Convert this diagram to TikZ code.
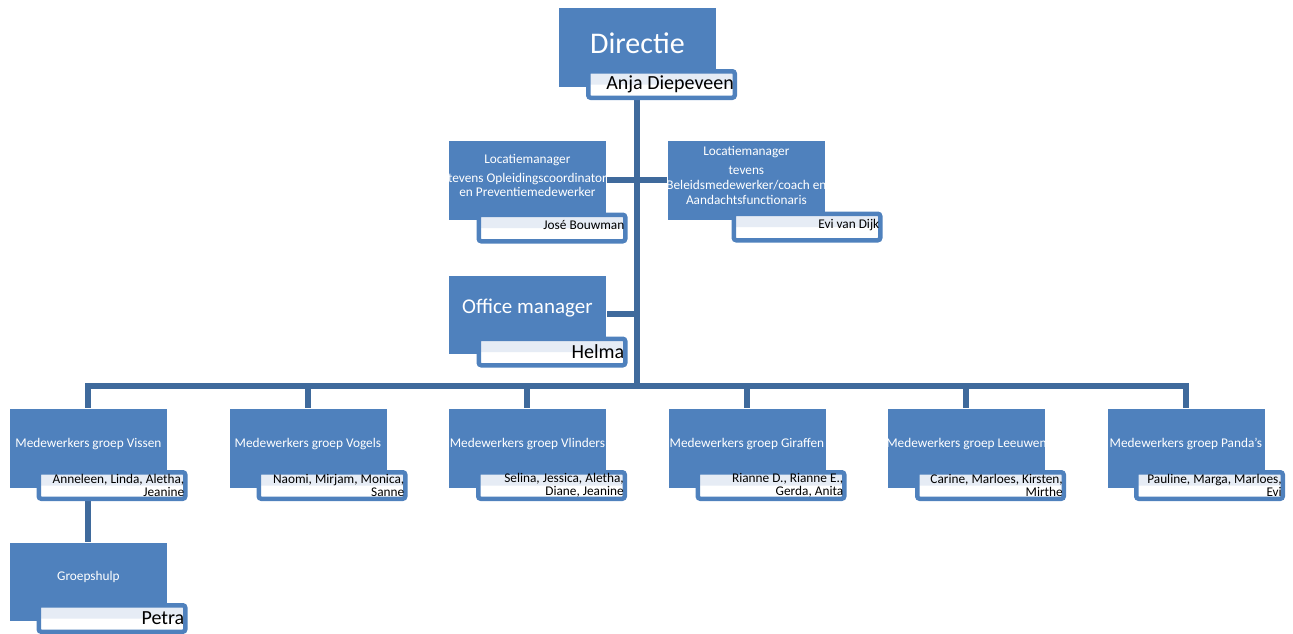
\documentclass[tikz,border=0pt]{standalone}
\usepackage{fontspec}
\setmainfont{Carlito}
\usetikzlibrary{backgrounds}
\definecolor{boxblue}{HTML}{4F81BD}
\definecolor{lineblue}{HTML}{3F6A9C}
\definecolor{nametop}{HTML}{E6ECF5}
\newcommand\ovl[1]{\makebox[150pt][c]{#1}}
\tikzset{
  mainbox/.style={rectangle, anchor=north west, fill=boxblue, draw=white, line width=0.8pt,
    minimum width=158pt, minimum height=80pt, inner sep=0pt, text width=158pt,
    text=white, align=flush center},
  namebox/.style={rectangle, draw=boxblue, line width=4.5pt, rounded corners=2.5pt,
    fill=white, path picture={\fill[nametop] (path picture bounding box.north west)
      rectangle (path picture bounding box.east);},
    text=black, inner xsep=1pt, inner ysep=0pt,
    minimum height=26.5pt, text width=144.5pt, align=flush right},
  conn/.style={draw=lineblue, line width=6pt, line join=miter},
  smallf/.style={font=\fontsize{13.3}{13}\selectfont},
  bigf/.style={font=\fontsize{20}{22}\selectfont},
  grp/.style={mainbox, smallf, text depth=12pt},
}
\begin{document}
\begin{tikzpicture}[x=1pt,y=-1pt]
\useasboundingbox (0,0) rectangle (1293,633);
% top
\node[mainbox, font=\fontsize{30}{32}\selectfont, text depth=8pt] (dir) at (558,7) {Directie};
\node[namebox, bigf, text depth=3pt] (dirn) at (661.5,84.5) {Anja Diepeveen};
% locatiemanagers
\node[mainbox, font=\fontsize{13.3}{14}\selectfont, text depth=43pt] (locl) at (448,140)
  {Locatiemanager\\[5pt]\ovl{tevens Opleidingscoordinator}\\en Preventiemedewerker};
\node[namebox, smallf, text depth=7pt] (locln) at (552,228) {José Bouwman};
\node[mainbox, font=\fontsize{13.3}{15}\selectfont, text depth=59pt] (locr) at (667,140)
  {Locatiemanager\\[4pt]tevens\\\ovl{Beleidsmedewerker/coach en}\\Aandachtsfunctionaris};
\node[namebox, smallf, text depth=6.5pt] (locrn) at (807,227) {Evi van Dijk};
% office
\node[mainbox, font=\fontsize{21}{23}\selectfont, text depth=16pt, minimum height=79pt] (off) at (448,274.5) {Office manager};
\node[namebox, bigf] (offn) at (552,352) {Helma};
% groups
\node[grp] (g1) at (9,408) {\ovl{Medewerkers groep Vissen}};
\node[namebox, smallf] (g1n) at (112,485.5) {Anneleen, Linda, Aletha,\\Jeanine};
\node[grp] (g2) at (228.5,408) {\ovl{Medewerkers groep Vogels}};
\node[namebox, smallf] (g2n) at (332,485.5) {Naomi, Mirjam, Monica,\\Sanne};
\node[grp] (g3) at (448,408) {\ovl{Medewerkers groep Vlinders}};
\node[namebox, smallf] (g3n) at (551.5,485.5) {Selina, Jessica, Aletha,\\Diane, Jeanine};
\node[grp] (g4) at (667.5,408) {\ovl{Medewerkers groep Giraffen}};
\node[namebox, smallf] (g4n) at (771,485.5) {Rianne D., Rianne E.,\\Gerda, Anita};
\node[grp] (g5) at (887,408) {\ovl{Medewerkers groep Leeuwen}};
\node[namebox, smallf] (g5n) at (990.5,485.5) {Carine, Marloes, Kirsten,\\Mirthe};
\node[grp] (g6) at (1106.5,408) {\ovl{Medewerkers groep Panda's}};
\node[namebox, smallf] (g6n) at (1209.5,485.5) {Pauline, Marga, Marloes,\\Evi};
% groepshulp
\node[mainbox, smallf, text depth=11pt, minimum height=79pt] (hulp) at (9,541.5) {Groepshulp};
\node[namebox, bigf] (hulpn) at (112,618.5) {Petra};
% connectors
\coordinate (bar) at (0,386);
\begin{pgfonlayer}{background}
\draw[conn] (dir.south) -- (dir.south |- bar);
\draw[conn] (locl.east) -- (locr.west);
\draw[conn] (off.east) -- (off.east -| dir.south);
\draw[conn] (g1.north) -- (g1.north |- bar) -- (g6.north |- bar) -- (g6.north);
\foreach \g in {g2,g3,g4,g5} { \draw[conn] (\g.north) -- (\g.north |- bar); }
\draw[conn] (g1.south) -- (hulp.north);
\end{pgfonlayer}
\end{tikzpicture}
\end{document}
